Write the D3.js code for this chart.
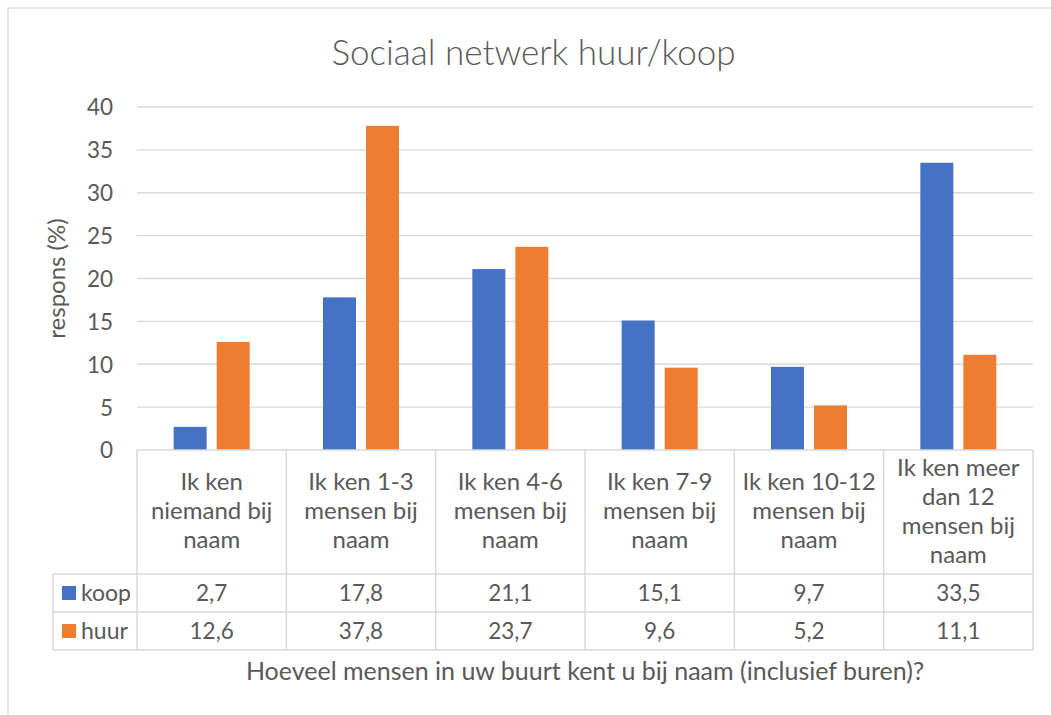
<!DOCTYPE html>
<html><head><meta charset="utf-8">
<script src="https://cdn.jsdelivr.net/npm/d3@7"></script>
<style>
html,body{margin:0;padding:0;background:#fff;}
svg{display:block;font-family:Lato,"Open Sans",sans-serif;}
</style></head>
<body><svg id="c" width="1051" height="715"></svg>
<script>
const title = "Sociaal netwerk huur/koop";
const yTitle = "respons (%)";
const xTitle = "Hoeveel mensen in uw buurt kent u bij naam (inclusief buren)?";
const categories = ["Ik ken niemand bij naam","Ik ken 1-3 mensen bij naam","Ik ken 4-6 mensen bij naam","Ik ken 7-9 mensen bij naam","Ik ken 10-12 mensen bij naam","Ik ken meer dan 12 mensen bij naam"];
const seriesNames = ["koop","huur"];
const koop = [2.7,17.8,21.1,15.1,9.7,33.5];
const huur = [12.6,37.8,23.7,9.6,5.2,11.1];
const yTicks = [0,5,10,15,20,25,30,35,40];
const colors = ["#4472C4","#ED7D31"];
const values = [koop, huur];

const svg = d3.select("#c");
const txt = "#595959", grid = "#D9D9D9";
const L = 137, R = 1033, T = 107, B = 450;
const fmt = v => d3.format(".1f")(v).replace(".", ",");

// chart border
svg.append("rect").attr("x",8).attr("y",8).attr("width",1100).attr("height",800)
  .attr("fill","none").attr("stroke",grid).attr("stroke-width",1.3);

const y = d3.scaleLinear().domain([0,40]).range([B,T]);
const x0 = d3.scaleBand().domain(categories).range([L,R]).padding(0);
const x1 = d3.scaleBand().domain(seriesNames).range([0,x0.bandwidth()]).paddingInner(0.2326).paddingOuter(0.8527);

// gridlines
svg.append("g").selectAll("line").data(yTicks.filter(d=>d>0)).join("line")
  .attr("x1",L).attr("x2",R).attr("y1",d=>y(d)).attr("y2",d=>y(d))
  .attr("stroke",grid).attr("stroke-width",1.3);

// y axis labels
const yAxis = d3.axisLeft(y).tickValues(yTicks).tickSize(0).tickPadding(24);
const ga = svg.append("g").attr("transform",`translate(${L},0)`).call(yAxis);
ga.select(".domain").remove();
ga.selectAll("text").attr("fill",txt).attr("font-size",22.5).attr("font-family","Lato").attr("dy","0.35em");

// bars
seriesNames.forEach((s,si)=>{
  svg.append("g").selectAll("rect").data(categories).join("rect")
    .attr("x",c=>x0(c)+x1(s)).attr("width",x1.bandwidth())
    .attr("y",(c,i)=>y(values[si][i])).attr("height",(c,i)=>B-y(values[si][i]))
    .attr("fill",colors[si]);
});

// data table
const rowTops = [574,612,650];
const tg = svg.append("g").attr("stroke",grid).attr("stroke-width",1.5);
tg.append("line").attr("x1",L).attr("x2",R).attr("y1",B).attr("y2",B);
rowTops.forEach(ry=>tg.append("line").attr("x1",53).attr("x2",R).attr("y1",ry).attr("y2",ry));
const vx = categories.map(c=>x0(c)).concat([R]);
vx.forEach(xx=>tg.append("line").attr("x1",xx).attr("x2",xx).attr("y1",B).attr("y2",650));
tg.append("line").attr("x1",53).attr("x2",53).attr("y1",574).attr("y2",650);

// category labels (wrapped)
const cg = svg.append("g").attr("fill",txt).attr("font-size",24).attr("text-anchor","middle");
categories.forEach(c=>{
  const t = cg.append("text").attr("x",x0(c)+x0.bandwidth()/2);
  const words = c.split(" ");
  const lines = []; let cur = [];
  const probe = cg.append("text").attr("visibility","hidden");
  words.forEach(w=>{
    const test = cur.concat([w]).join(" ");
    probe.text(test);
    if (cur.length && probe.node().getComputedTextLength() > 143) { lines.push(cur.join(" ")); cur=[w]; }
    else cur.push(w);
  });
  lines.push(cur.join(" "));
  probe.remove();
  const n = lines.length;
  lines.forEach((ln,i)=>{
    t.append("tspan").attr("x",x0(c)+x0.bandwidth()/2).attr("y",519+(i-(n-1)/2)*29).text(ln);
  });
});

// table values and legend keys
seriesNames.forEach((s,si)=>{
  const cy = (rowTops[si]+rowTops[si+1])/2;
  svg.append("rect").attr("x",62).attr("y",cy-7).attr("width",14).attr("height",14).attr("fill",colors[si]);
  svg.append("text").attr("x",81).attr("y",cy+7.5).attr("fill",txt).attr("font-size",23).text(s);
  svg.append("g").selectAll("text").data(categories).join("text")
    .attr("x",c=>x0(c)+x0.bandwidth()/2).attr("y",cy+7.5).attr("text-anchor","middle")
    .attr("fill",txt).attr("font-size",22.5).text((c,i)=>fmt(values[si][i]));
});

// titles
svg.append("text").attr("x",533.5).attr("y",65).attr("text-anchor","middle").attr("fill",txt)
  .attr("font-size",35).attr("font-weight",300).text(title);
svg.append("text").attr("transform",`translate(65,${(T+B)/2}) rotate(-90)`).attr("text-anchor","middle")
  .attr("fill",txt).attr("font-size",24).text(yTitle);
svg.append("text").attr("x",(L+R)/2).attr("y",680).attr("text-anchor","middle").attr("fill",txt)
  .attr("font-size",25).text(xTitle);
</script></body></html>
